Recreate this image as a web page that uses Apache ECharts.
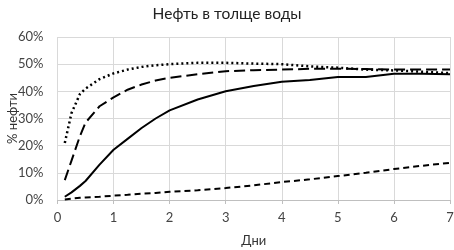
<!DOCTYPE html>
<html>
<head>
<meta charset="utf-8">
<script src="https://cdn.jsdelivr.net/npm/echarts@6/dist/echarts.min.js"></script>
<style>html,body{margin:0;padding:0;background:#fff}#c{width:454px;height:250px}</style>
</head>
<body>
<div id="c"></div>
<script>
const titleText = "Нефть в толще воды";
const xName = "Дни";
const yName = "% нефти";
const days = [0.13, 0.25, 0.4, 0.5, 0.75, 1, 1.25, 1.5, 1.75, 2, 2.5, 3, 3.5, 4, 4.5, 5, 5.5, 6, 6.5, 7];
const dotted = [21, 32, 39, 41, 44.5, 46.6, 48, 49, 49.6, 50, 50.5, 50.5, 50.2, 50, 49.2, 48.7, 48, 47.7, 47.2, 46.7];
const longDash = [7.3, 14.5, 23.5, 28.5, 34.5, 37.8, 40.6, 42.5, 44, 45, 46.3, 47.4, 47.8, 48, 48.3, 48.3, 48.2, 48, 48, 48];
const solid = [1.2, 2.8, 5.2, 7, 13, 18.5, 22.5, 26.5, 30, 33, 37, 40, 42, 43.5, 44.2, 45.3, 45.3, 46.5, 46.5, 46.3];
const shortDash = [0.2, 0.5, 0.8, 0.9, 1.2, 1.6, 1.9, 2.3, 2.6, 3, 3.6, 4.4, 5.4, 6.6, 7.6, 8.8, 10, 11.4, 12.6, 13.7];

const pair = arr => days.map((d, i) => [d, arr[i]]);
const font = "Lato, 'Open Sans', sans-serif";
const chart = echarts.init(document.getElementById('c'), null, {renderer: 'canvas'});
const mk = (data, type, width) => ({
  type: 'line', data: pair(data), symbol: 'none', smooth: false, animation: false,
  lineStyle: {color: '#000', width: width, type: type}
});
chart.setOption({
  animation: false,
  title: {text: titleText, left: 'center', top: 1,
    textStyle: {fontFamily: font, fontSize: 15.5, fontWeight: 'normal', color: '#222'}},
  grid: {left: 57.5, right: 4, top: 37, bottom: 50, containLabel: false, outerBoundsMode: 'none'},
  xAxis: {
    type: 'value', min: 0, max: 7, interval: 1,
    name: xName, nameLocation: 'middle', nameGap: 34, nameMoveOverlap: false,
    nameTextStyle: {fontFamily: font, fontSize: 13, color: '#333'},
    axisLine: {show: true, lineStyle: {color: '#bfbfbf'}},
    axisTick: {show: true, length: 4, lineStyle: {color: '#bfbfbf'}},
    axisLabel: {fontFamily: font, fontSize: 13, color: '#444', margin: 11},
    splitLine: {show: true, lineStyle: {color: '#d9d9d9'}}
  },
  yAxis: {
    type: 'value', min: 0, max: 60, interval: 10,
    name: yName, nameLocation: 'middle', nameGap: 38, nameRotate: 90, nameMoveOverlap: false,
    nameTextStyle: {fontFamily: font, fontSize: 13, color: '#333'},
    axisLine: {show: false},
    axisTick: {show: false},
    axisLabel: {fontFamily: font, fontSize: 13, color: '#444', formatter: '{value}%', margin: 14},
    splitLine: {show: true, lineStyle: {color: '#d9d9d9'}}
  },
  series: [
    mk(shortDash, [6, 4], 2),
    mk(solid, 'solid', 2),
    mk(longDash, [11, 5], 2),
    mk(dotted, [2, 3], 2.5)
  ]
});
</script>
</body>
</html>
